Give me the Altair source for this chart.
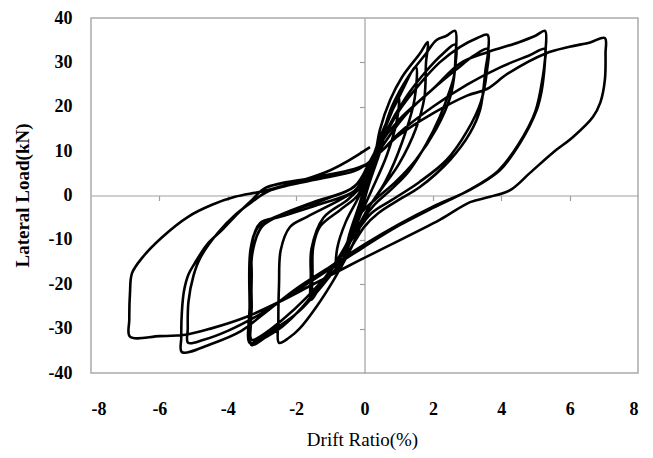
import altair as alt
import pandas as pd

# Hysteresis cycles (drift ratio %, lateral load kN)
c01_x = [0.0, 0.15, 0.3, 0.22, 0.05, -0.15, -0.3, -0.22, -0.05, 0.05]
c01_y = [0.0, 5, 9, 6, 1, -4, -8, -5, -1, 2]
c02_x = [0.05, 0.3, 0.6, 0.5, 0.15, -0.2, -0.55, -0.6, -0.45, -0.15, 0.05]
c02_y = [2, 8, 15, 11, 3, -6, -13, -15, -9, -2, 3]
c03_x = [0.05, 0.35, 0.7, 1.0, 0.95, 0.65, 0.2, -0.15, -0.5, -0.82, -0.8, -0.55, -0.15, 0.05]
c03_y = [3, 10, 17, 22, 17, 9, 1, -5, -12, -17, -12, -6, 0, 4]
c04_x = [0.05, 0.5, 1.0, 1.5, 1.47, 1.1, 0.6, 0.1, -0.3, -0.8, -1.2, -1.5, -1.52, -1.5, -1.3, -0.72, -0.2, 0.05]
c04_y = [4, 14, 22, 29, 22, 12, 3, -3, -9, -15, -19, -22, -17, -11.6, -7, -3.3, 0, 4]
c05_x = [0.05, 0.3, 0.45, 0.75, 1.1, 1.62, 1.85, 1.8, 1.75, 1.5, 1.0, 0.5, 0.1, -0.4, -0.9, -1.3, -1.56, -1.57, -1.55, -1.2, -0.5, 0.05]
c05_y = [4, 9, 14.8, 21.5, 26.7, 32, 34.6, 30, 22, 15, 7, 1.5, -3, -10, -16, -20.5, -23.5, -18, -12, -5, -1, 3]
c06_x = [0.05, 0.3, 0.8, 1.3, 1.8, 2.1, 2.4, 2.65, 2.66, 2.62, 2.5, 2.2, 1.8, 1.3, 0.8, 0.3, 0.0, -0.4, -0.9, -1.4, -1.9, -2.2, -2.5, -2.52, -2.5, -2.45, -2.18, -1.68, -0.72, -0.1, 0.05]
c06_y = [3, 8, 20, 27, 32, 35, 36, 37.1, 31, 27, 23.8, 17.7, 11.5, 5.5, 1.5, -2, -5, -12, -19, -25, -30, -32, -33.2, -28, -20, -12.3, -7.1, -4.8, -1, 2, 4]
c07_x = [0.05, 0.6, 1.2, 1.8, 2.3, 2.65, 2.64, 2.5, 2.1, 1.5, 0.9, 0.3, -0.1, -0.6, -1.2, -1.8, -2.4, -2.9, -3.3, -3.32, -3.3, -3.29, -3.05, -2.47, -1.2, -0.3, 0.05]
c07_y = [4, 14, 22, 28, 32, 34, 28, 22, 15, 8, 3, -1, -4, -12, -19, -25, -29.5, -32, -33.7, -28, -18, -10.7, -6.2, -4.8, -1.7, 1, 5]
c08_x = [0.05, 0.5, 1.0, 1.6, 2.2, 2.8, 3.3, 3.6, 3.61, 3.55, 3.38, 3.08, 2.5, 1.62, 1.0, 0.4, 0.0, -0.5, -1.2, -1.9, -2.6, -3.0, -3.35, -3.36, -3.33, -3.1, -2.5, -1.5, -0.4, 0.05]
c08_y = [5, 12, 19, 25, 30, 33.5, 35.5, 36.2, 32, 29, 19.3, 14, 8, 1.9, -1, -4, -7, -13, -20, -26, -30, -32, -33.3, -25, -12, -7, -4.5, -1.5, 1.5, 5]
c09_x = [0.05, 0.6, 1.3, 2.0, 2.7, 3.2, 3.6, 3.58, 3.4, 3.0, 2.4, 1.6, 0.8, 0.2, -0.3, -1.0, -1.7, -2.4, -3.0, -3.3, -3.3, -3.28, -3.0, -2.3, -1.2, -0.3, 0.05]
c09_y = [5, 12, 19, 24, 28.5, 31.5, 33, 28, 21, 14.5, 8, 3, -1, -4, -9, -17, -23, -28, -31.5, -32.5, -25, -13, -7, -4, -1, 2, 6]
c10_x = [0.05, 0.4, 1.0, 2.0, 2.8, 3.6, 4.5, 5.0, 5.28, 5.29, 5.26, 5.18, 5.04, 4.55, 3.96, 3.07, 2.0, 1.0, 0.0, -1.0, -2.0, -3.0, -3.6, -4.5, -5.34, -5.36, -5.34, -5.28, -5.15, -4.96, -4.6, -4.17, -3.7, -3.29, -2.9, -1.5, -0.3, 0.05]
c10_y = [6, 11, 17, 24, 29.8, 32.3, 34.5, 36, 37.1, 32, 28.3, 23.5, 19.3, 11.8, 5.7, 1.2, -2.5, -6.5, -11, -16, -21, -27, -30.5, -33.5, -35.3, -32, -26, -21.5, -17.8, -15.2, -11, -7.8, -4, -1.0, 1.7, 4, 6, 7]
c11_x = [0.05, 0.5, 1.0, 2.0, 3.0, 4.0, 4.8, 5.28, 5.27, 5.22, 5.0, 4.5, 3.9, 3.0, 2.0, 1.0, 0.0, -1.0, -2.0, -3.0, -4.0, -4.7, -5.16, -5.17, -5.15, -5.0, -4.8, -4.3, -3.8, -3.3, -2.8, -1.5, -0.3, 0.05]
c11_y = [7, 10, 14, 20, 25, 29, 31.5, 33, 30, 27, 19, 11.5, 5.5, 1.0, -2.8, -6.8, -11.5, -16.5, -21.5, -26.5, -30.5, -32.5, -33.2, -30, -24, -18, -14, -8.5, -4.5, -1.5, 1.0, 3.5, 5.5, 7]
c12_x = [0.05, 0.5, 1.0, 2.0, 3.0, 3.58, 4.2, 5.3, 6.0, 6.6, 7.03, 7.05, 7.03, 6.9, 6.68, 6.1, 5.5, 4.84, 4.26, 3.67, 3.09, 2.2, 0.45, -0.5, -1.5, -2.5, -3.5, -4.5, -5.25, -6.0, -6.86, -6.88, -6.86, -6.8, -6.5, -5.92, -5.16, -4.46, -3.79, -2.85, -1.0, 0.16]
c12_y = [7, 10, 13.5, 18.5, 22.5, 24, 27.5, 32, 33.5, 34.5, 35.5, 32, 26, 21, 17.7, 13.2, 9.6, 5.1, 1.2, -0.3, -1.5, -5.5, -12.3, -16, -20, -24, -27.5, -30, -31.4, -31.7, -31.8, -28, -22, -17.5, -14, -9.4, -4.8, -2.1, -0.3, 1.2, 5.7, 10.9]

x_ticks = [-8, -6, -4, -2, 0, 2, 4, 6, 8]
y_ticks = [-40, -30, -20, -10, 0, 10, 20, 30, 40]
x_inner_ticks = [-6, -4, -2, 2, 4, 6]
y_inner_ticks = [-30, -20, -10, 10, 20, 30]

cycles = [(c01_x, c01_y), (c02_x, c02_y), (c03_x, c03_y), (c04_x, c04_y),
          (c05_x, c05_y), (c06_x, c06_y), (c07_x, c07_y), (c08_x, c08_y),
          (c09_x, c09_y), (c10_x, c10_y), (c11_x, c11_y), (c12_x, c12_y)]

rows = []
idx = 0
for cx, cy in cycles:
    for a, b in zip(cx, cy):
        rows.append({"drift": a, "load": b, "idx": idx})
        idx += 1
df = pd.DataFrame(rows)

W, H = 547, 355
FONT = "Liberation Serif"
xs = alt.Scale(domain=[-8, 8], nice=False, zero=False)
ys = alt.Scale(domain=[-40, 40], nice=False, zero=False)

inner = alt.Chart(df).mark_point(opacity=0).encode(
    x=alt.X("drift:Q", scale=xs, axis=alt.Axis(
        orient="bottom", values=x_inner_ticks, labels=False, title="", grid=False,
        domainColor="#a0a0a0", domainWidth=1.2, tickColor="#a0a0a0",
        tickWidth=1.2, tickSize=5, offset=-H / 2)),
    y=alt.Y("load:Q", scale=ys, axis=alt.Axis(
        orient="left", values=y_inner_ticks, labels=False, title="", grid=False,
        domainColor="#a0a0a0", domainWidth=1.2, tickColor="#a0a0a0",
        tickWidth=1.2, tickSize=5, offset=-W / 2)),
)

lines = alt.Chart(df).mark_line(color="black", strokeWidth=2.6, strokeJoin="round",
                                interpolate="catmull-rom").encode(
    x=alt.X("drift:Q", scale=xs, axis=alt.Axis(
        orient="bottom", values=x_ticks, ticks=False, domain=False, grid=False,
        labelFont=FONT, labelFontSize=18, labelFontWeight="bold", labelColor="black",
        labelPadding=27, labelExpr="'' + datum.value",
        title="Drift Ratio(%)", titleFont=FONT, titleFontSize=19,
        titleFontWeight="normal", titleColor="black",
        titleX=271, titleY=72, titleBaseline="alphabetic", titleAlign="center")),
    y=alt.Y("load:Q", scale=ys, axis=alt.Axis(
        orient="left", values=y_ticks, ticks=False, domain=False, grid=False,
        labelFont=FONT, labelFontSize=18, labelFontWeight="bold", labelColor="black",
        labelPadding=19, labelExpr="'' + datum.value",
        title="Lateral Load(kN)", titleFont=FONT, titleFontSize=19,
        titleFontWeight="bold", titleColor="black", titleAngle=270,
        titleX=-63, titleY=177, titleBaseline="alphabetic", titleAlign="center")),
    order="idx:Q",
)

chart = alt.layer(inner, lines).resolve_axis(x="independent", y="independent").properties(
    width=W, height=H,
    autosize=alt.AutoSizeParams(type="none"),
    padding={"left": 83, "top": 10, "right": 4, "bottom": 82},
    background="white",
).configure_view(stroke="#ababab", strokeWidth=1.5)

chart.save("out.html", embed_options={"renderer": "svg", "actions": False})
